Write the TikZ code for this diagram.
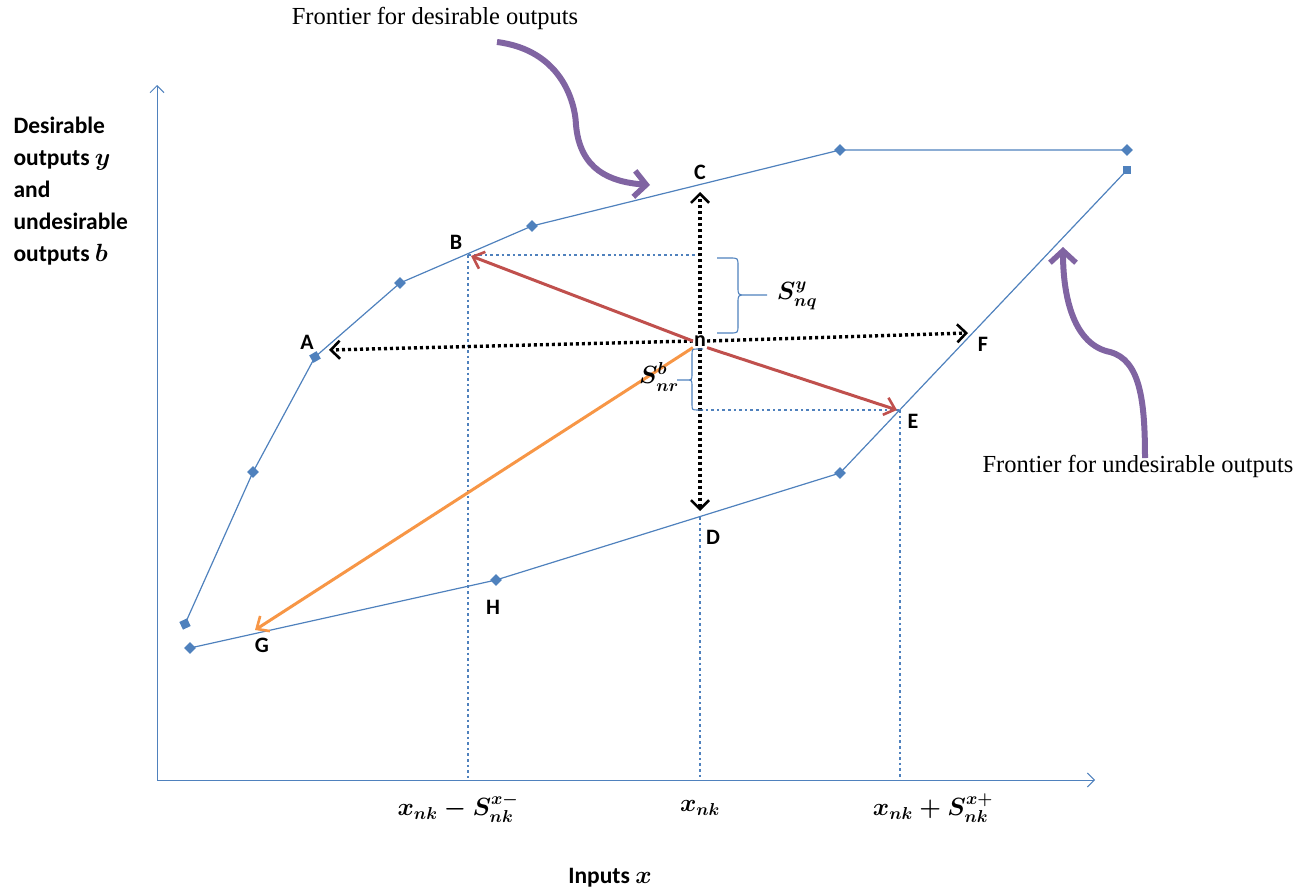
\documentclass[tikz,border=0pt]{standalone}
\usepackage{amsmath}
\usepackage{fontspec}
\setmainfont{Liberation Serif}
\setsansfont{Carlito}
\usetikzlibrary{arrows.meta,shapes.geometric}
\definecolor{frontblue}{RGB}{79,129,189}
\definecolor{arrowred}{RGB}{192,80,77}
\definecolor{arroworange}{RGB}{247,150,70}
\definecolor{curvepurple}{RGB}{128,100,162}
\newcommand{\lblfont}{\fontsize{23.5}{32}\selectfont\sffamily\bfseries}
\newcommand{\ptfont}{\fontsize{22}{26}\selectfont\sffamily\bfseries}
\newcommand{\mathfont}{\fontsize{23}{26}\selectfont\boldmath}
\newcommand{\notefont}{\fontsize{24.5}{28}\selectfont\rmfamily}

\begin{document}
\begin{tikzpicture}[x=1pt,y=-1pt,
  axis/.style={frontblue,line width=1pt,-{Straight Barb[length=7pt,width=14pt,line width=1pt]}},
  frontier/.style={frontblue,line width=1.2pt},
  mkd/.style={diamond,fill=frontblue,inner sep=0pt,minimum size=12pt},
  mks/.style={rectangle,fill=frontblue,inner sep=0pt,minimum size=8.5pt},
  guide/.style={frontblue,line width=2.6pt,dash pattern=on 2.6pt off 3pt},
  move/.style={black,line width=3.4pt,dash pattern=on 3pt off 3pt,-{Straight Barb[length=9pt,width=18pt,line width=2.6pt]}},
  slack/.style={line width=3pt,-{Straight Barb[length=10pt,width=18pt,line width=2.6pt]}},
  curly/.style={curvepurple,line width=6pt,-{Straight Barb[length=12pt,width=26pt,line width=5.5pt]}},
  brc/.style={frontblue,line width=1.1pt},
  pt/.style={font=\ptfont,inner sep=1pt}]
\useasboundingbox (0,0) rectangle (1310,894);
% axes
\coordinate (o) at (157,780);
\coordinate (ytop) at (157,85);
\coordinate (xend) at (1095,780);
\draw[axis] (o) -- (ytop);
\draw[axis] (o) -- (xend);
% frontier for desirable outputs
\node[mks,rotate=25] (d1) at (185,624) {};
\node[mkd] (d2) at (253,472) {};
\node[mks,rotate=30] (d3) at (315,357) {};
\node[mkd] (d4) at (400,283) {};
\node[mkd] (d5) at (532,226) {};
\node[mkd] (d6) at (840,150) {};
\node[mkd] (d7) at (1127,150) {};
\draw[frontier] (d1.center) -- (d2.center) -- (d3.center) -- (d4.center) -- (d5.center) -- (d6.center) -- (d7.center);
% frontier for undesirable outputs
\node[mkd] (u1) at (190,648) {};
\node[mkd] (u2) at (496,580) {};
\node[mkd] (u3) at (840,473) {};
\node[mks] (u4) at (1127,170) {};
\draw[frontier] (u1.center) -- (u2.center) -- (u3.center) -- (u4.center);
% points on the frontiers
\coordinate (B) at (468,255);
\coordinate (D) at (700,517);
\coordinate (E) at (900,410);
\node[pt] (n) at (700,341) {n};
% dotted guides
\draw[guide] (B) -- (B |- o);
\draw[guide] (B) -- (B -| n);
\draw[guide] (D) -- (D |- o);
\draw[guide] (E) -- (E |- o);
\draw[guide] (E -| n) -- (E);
% moves from n
\coordinate (Ct) at (700,192);
\coordinate (Dt) at (700,511);
\coordinate (At) at (329,350);
\coordinate (Ft) at (968,333);
\coordinate (Bt) at (471,256);
\coordinate (Et) at (897,410);
\coordinate (Gt) at (255,630);
\draw[move] (n.north) -- (Ct);
\draw[move] (n.south) -- (Dt);
\draw[move] (n.west) -- (At);
\draw[move] (n.east) -- (Ft);
\draw[slack,arrowred] (n.west) -- (Bt);
\draw[slack,arrowred] (n.south east) -- (Et);
\draw[slack,arroworange] (n.south west) -- (Gt);
% point labels
\node[pt] (lC) at (700,172) {C};
\node[pt] (lB) at (456,242) {B};
\node[pt] (lA) at (307,342) {A};
\node[pt] (lF) at (983,344) {F};
\node[pt] (lE) at (913,421) {E};
\node[pt] (lD) at (713,537) {D};
\node[pt] (lH) at (493,607) {H};
\node[pt] (lG) at (262,645) {G};
% braces
\draw[brc] (717,258) -- (730,258) .. controls (738,258) .. (738,266) -- (738,287) .. controls (738,295) .. (746,295) -- (767,295)
  (746,295) .. controls (738,295) .. (738,303) -- (738,325) .. controls (738,333) .. (730,333) -- (717,333);
\node[font=\mathfont] (sy) at (797,296) {$S^{y}_{nq}$};
\draw[brc] (703,349) -- (698,349) .. controls (692,349) .. (692,355) -- (692,374) .. controls (692,380) .. (686,380) -- (677,380)
  (686,380) .. controls (692,380) .. (692,386) -- (692,404) .. controls (692,410) .. (698,410) -- (703,410);
\node[font=\mathfont] (sb) at (659,377) {$S^{b}_{nr}$};
% axis labels
\node[font=\lblfont,align=left,anchor=north west] (ylab) at (10,113) {Desirable\\outputs $\boldsymbol{y}$\\and\\undesirable\\outputs $\boldsymbol{b}$};
\node[font=\lblfont] (xlab) at (610,878) {Inputs $\boldsymbol{x}$};
\node[font=\mathfont] (xl) at (458,808) {$x_{nk}-S^{x-}_{nk}$};
\node[font=\mathfont] (xm) at (700,808) {$x_{nk}$};
\node[font=\mathfont] (xr) at (933,808) {$x_{nk}+S^{x+}_{nk}$};
% frontier notes
\node[font=\notefont] (topnote) at (435,18) {Frontier for desirable outputs};
\node[font=\notefont] (rightnote) at (1138,466) {Frontier for undesirable outputs};
\draw[curly] (497,42) .. controls (560,50) and (575,100) .. (576,125) .. controls (580,170) and (610,182) .. (650,185);
\draw[curly] (1145,458) .. controls (1145,400) and (1140,360) .. (1110,352) .. controls (1075,345) and (1063,300) .. (1063,247);
\end{tikzpicture}
\end{document}
